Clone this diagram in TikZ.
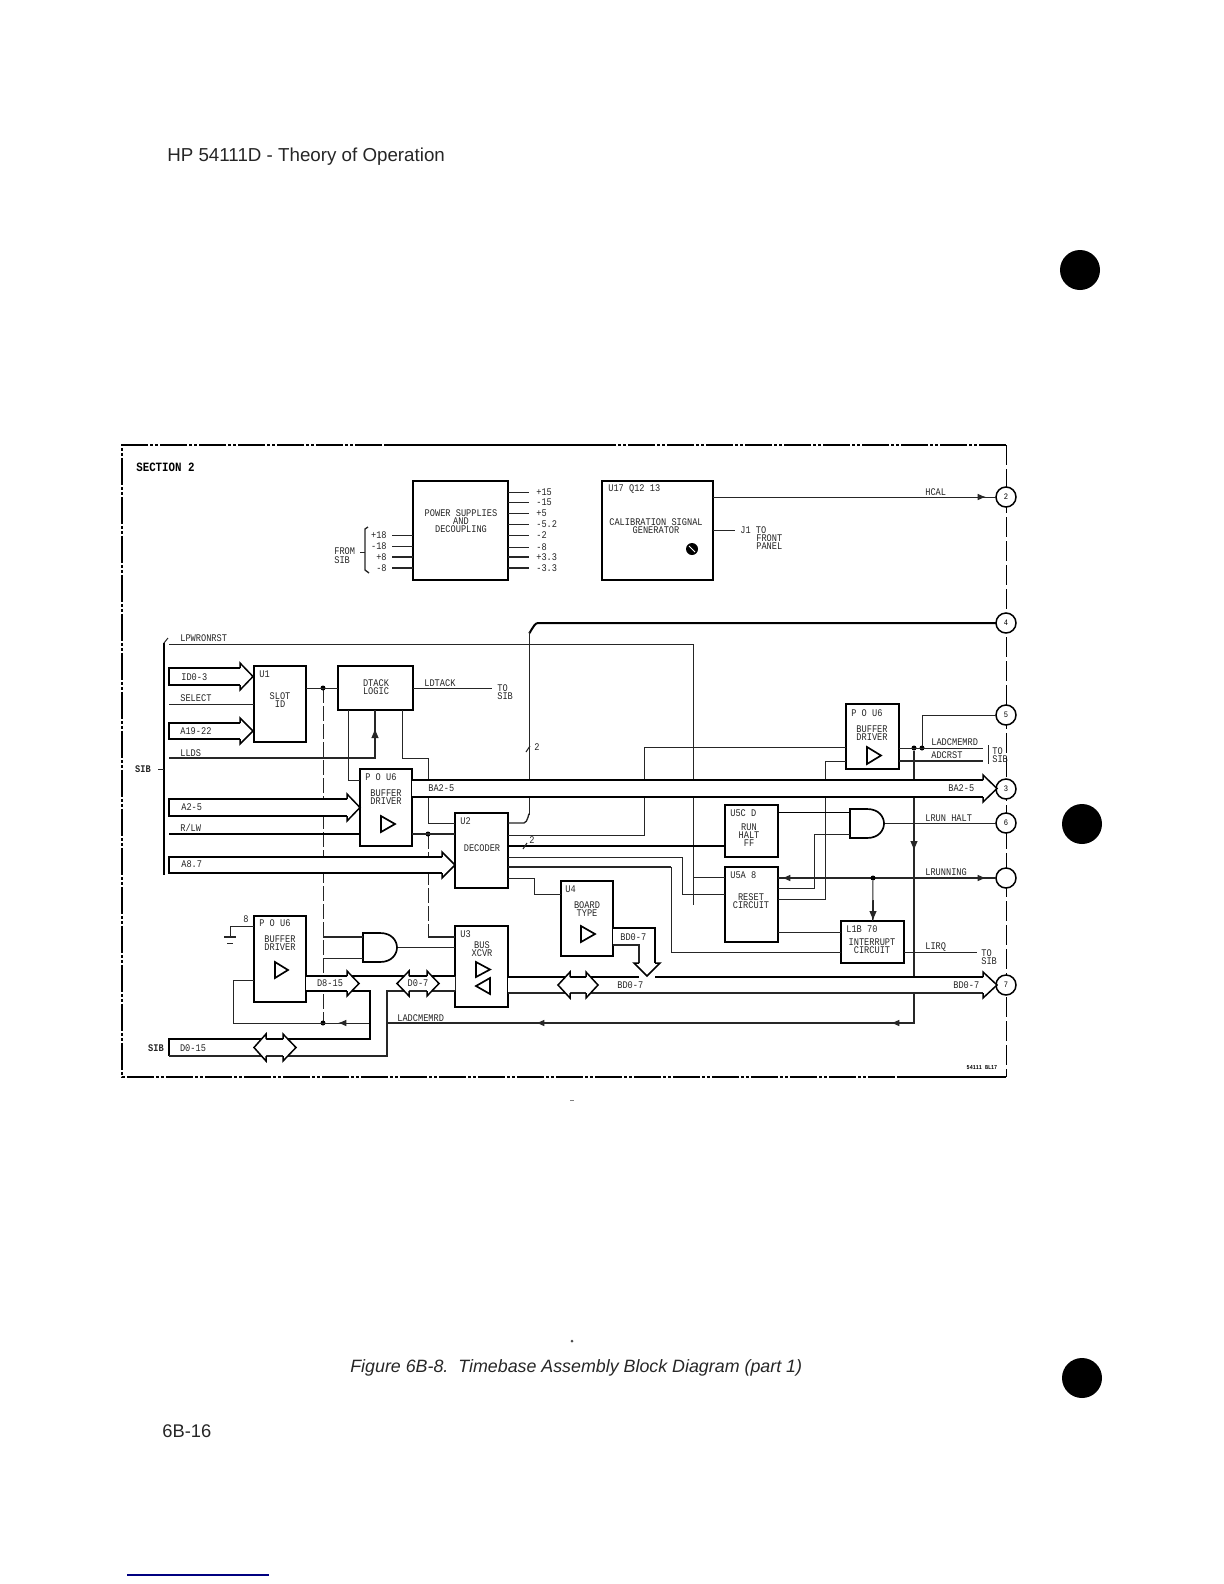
\documentclass[tikz,border=0pt]{standalone}
\usepackage{fontspec}
\setmainfont{Liberation Sans}
\newfontfamily\schem[FakeStretch=0.85]{Liberation Mono}
\usetikzlibrary{arrows.meta}
\def\pu{0.6pt}
\tikzset{
  thinw/.style={line width=0.6pt,black!85},
  thickw/.style={line width=1.2pt,black},
  blockbox/.style={draw=black,line width=1.1pt,fill=white,inner sep=0pt,outer sep=0pt},
  lbl/.style={inner sep=0pt,font=\schem\fontsize{6.1}{6}\selectfont,black!85},
  boldlbl/.style={inner sep=0pt,font=\schem\bfseries\fontsize{7.6}{7}\selectfont},
  tinylbl/.style={inner sep=0pt,font=\schem\bfseries\fontsize{3.6}{4}\selectfont},
  pagelbl/.style={inner sep=0pt,anchor=base west,font=\fontsize{11.25}{14}\selectfont,black!85},
  port/.style={circle,draw=black,line width=0.9pt,fill=white,minimum size=12pt,inner sep=0pt,outer sep=0pt,font=\schem\fontsize{5}{5}\selectfont},
  framedash/.style={line width=0.9pt,dash pattern=on 16pt off 1.4pt on 1.6pt off 1.4pt on 1.6pt off 1.4pt},
  sidedash/.style={line width=0.55pt,dash pattern=on 12pt off 2.4pt},
  longdash/.style={line width=0.6pt,black!85,dash pattern=on 9pt off 1.8pt},
  jdot/.style={circle,fill=black,minimum size=3pt,inner sep=0pt,outer sep=0pt},
  hollowtri/.style={line width=1pt,fill=white},
  gateshape/.style={draw=black,line width=1pt,fill=white},
}
% hollow bus arrowheads: base x, tip x, top y, bottom y
\newcommand\rhead[4]{\path[fill=white] (#1,#3-6) -- (#2,{(#3+#4)/2}) -- (#1,#4+6) -- cycle;
  \draw[line width=0.9pt] (#1,#3) -- (#1,#3-5) -- (#2,{(#3+#4)/2}) -- (#1,#4+5) -- (#1,#4);}
% block: name, x1, y1, x2, y2
\newcommand\mkbox[5]{\node[blockbox,minimum width={(#4-#2)*\pu},minimum height={(#5-#3)*\pu}] (#1) at ({(#2+#4)/2},{(#3+#5)/2}) {};}
% amplifier triangle: left x, top y, bottom y, apex x
\newcommand\amp[4]{\draw[hollowtri] (#1,#2) -- (#4,{(#2+#3)/2}) -- (#1,#3) -- cycle;}
\newcommand\andgate[3]{\draw[gateshape] (#1,#2) -- (#1+17,#2) .. controls (#1+29,#2) and (#1+34,#2+8) .. (#1+34,{#2+(#3-#2)/2}) .. controls (#1+34,#3-8) and (#1+29,#3) .. (#1+17,#3) -- (#1,#3) -- cycle;}
\begin{document}
\begin{tikzpicture}[x=0.6pt,y=-0.6pt]
\useasboundingbox (0,0) rectangle (1224,1584);
\fill[white] (0,0) rectangle (1224,1584);

% page text
\node[pagelbl] (head) at (167,161) {HP 54111D - Theory of Operation};
\node[pagelbl,font=\itshape\fontsize{10.7}{13}\selectfont] (caption) at (350,1372) {Figure 6B-8.\ \ Timebase Assembly Block Diagram (part 1)};
\node[pagelbl,font=\fontsize{11}{13}\selectfont] (pageno) at (162,1437) {6B-16};
\fill[black] (1080,270) circle (20);
\fill[black] (1082,824) circle (20);
\fill[black] (1082,1378) circle (20);
\draw[line width=0.7pt,blue!50!black] (127,1575) -- (269,1575);
\draw[line width=0.5pt,black!50] (570,1100) -- (574,1100);
\fill[black!70] (572,1341) circle (1.5);

% frame
\draw[framedash] (1006,445) -- (122,445) -- (122,1077) -- (1006,1077);
\draw[line width=1.5pt] (385,445) -- (590,445);
\draw[line width=1.3pt] (900,1077) -- (1006,1077);
\draw[sidedash] (1006,445) -- (1006,1077);
\node[boldlbl,anchor=west] (sec) at (136,467) {SECTION 2};

% blocks
\mkbox{pwr}{413}{481}{508}{580}
\mkbox{cal}{602}{481}{713}{580}
\mkbox{uone}{254}{666}{306}{742}
\mkbox{dtack}{338}{666}{413}{710}
\mkbox{usixa}{360}{769}{412}{846}
\mkbox{utwo}{455}{813}{508}{888}
\mkbox{ufour}{561}{881}{613}{956}
\mkbox{uthree}{455}{926}{508}{1007}
\mkbox{usixc}{254}{916}{306}{1002}
\mkbox{usixb}{846}{704}{899}{769}
\mkbox{ufivec}{725}{805}{778}{857}
\mkbox{ufivea}{725}{867}{778}{942}
\mkbox{lonebox}{841}{921}{904}{963}

% ports
\node[port] (pA) at (1006,497) {2};
\node[port] (pB) at (1006,623) {4};
\node[port] (pC) at (1006,715) {5};
\node[port] (pD) at (1006,789) {3};
\node[port] (pE) at (1006,823) {6};
\node[port] (pF) at (1006,878) {};
\node[port] (pG) at (1006,985) {7};

% power rails
\foreach \yy/\tt [count=\i] in {492/+15,502/-15,513/+5,524/-5.2,535/-2,547/-8,557/+3.3,568/-3.3}{
  \coordinate (r\i) at (529,\yy);
  \pgfmathsetmacro\rw{\i>6?1.1:0.6}
  \draw[thinw,line width=\rw pt] (pwr.east |- r\i) -- (r\i);
  \node[lbl,anchor=west] (rl\i) at (536,\yy) {\tt};
}
\foreach \yy/\tt/\ww [count=\i] in {535/+18/0.6,546/-18/0.6,557/+8/0.7,568/-8/1.1}{
  \coordinate (s\i) at (392,\yy);
  \draw[thinw,line width=\ww pt] (s\i) -- (pwr.west |- s\i);
  \node[lbl,anchor=east] (sl\i) at (387,\yy) {\tt};
}
\draw[thinw,line width=0.8pt] (368,527) -- (365,529) -- (365,570) -- (369,573);
\draw[thinw] (360,552) -- (365,552);
\node[lbl,anchor=west] (from) at (334,551) {FROM};
\node[lbl,anchor=west] (fsib) at (334,560) {SIB};

% calibration block
\draw[thinw] (cal.east |- pA) -- (pA);
\draw[-{Latex[length=5pt,width=4pt]},thinw] (960,497) -- (986,497);
\coordinate (jt) at (735,530);
\draw[thinw] (cal.east |- jt) -- (jt);
\fill[black] (692,549) circle (6);
\draw[white,line width=0.6pt] (689,546) -- (695,552);

% long thin nets
\coordinate (lp) at (169,644);
\coordinate (lpb) at (693,644);
\draw[thinw] (lp) -- (lpb) -- (lpb |- ufivea.west) ;
\draw[thinw] (693,877) -- (ufivea.west |- 0,877);
\draw[thickw] (pB) -- (538,623) to[out=180,in=-90] (529,632);
\draw[thinw] (529,632) -- (529,815);
\draw[thinw,line width=0.8pt] (529,815) to[out=90,in=0] (524,823) -- (utwo.east |- 0,823);
\draw[thinw] (dtack.south -| 348,0) -- (348,780) -- (usixa.west |- 0,780);
\draw[thinw] (402,710) -- (402,758) -- (428,758) -- (428,823) -- (utwo.west |- 0,823);
\draw[longdash] (323,688) -- (323,1023);
\draw[longdash] (428,834) -- (428,937);
\draw[thinw,line width=0.8pt] (428,937) -- (uthree.west |- 0,937);
\node[jdot] (dota) at (323,688) {};
\node[jdot] (dotb) at (428,834) {};
\node[jdot] (dotc) at (323,1023) {};
\draw[thinw] (uone.east |- dota) -- (dtack.west |- dota);
\coordinate (ldt) at (492,688);
\draw[thinw] (dtack.east |- ldt) -- (ldt);
\coordinate (sel) at (169,704);
\draw[thinw] (sel) -- (uone.west |- sel);
\coordinate (lds) at (169,758);
\draw[thinw,line width=0.7pt] (lds) -- (375,758) -- (375,710);
\draw[-{Latex[length=6pt,width=4.5pt]},thinw] (375,750) -- (375,728);
\coordinate (rlw) at (169,834);
\draw[thickw,line width=1pt] (rlw) -- (usixa.west |- rlw);
\draw[thinw,line width=0.8pt] (usixa.east |- rlw) -- (utwo.west |- rlw);

% decoder outputs
\draw[thinw] (utwo.east |- 0,835) -- (644,835) -- (644,747) -- (usixb.west |- 0,747);
\draw[thickw,line width=1pt] (utwo.east |- 0,846) -- (ufivec.west |- 0,846);
\draw[thinw] (utwo.east |- 0,857) -- (682,857) -- (682,894) -- (ufivea.west |- 0,894);
\draw[thinw,line width=0.8pt] (utwo.east |- 0,867) -- (671,867);
\draw[thinw] (671,867) -- (671,952) -- (lonebox.west |- 0,952);
\draw[thinw] (utwo.east |- 0,878) -- (534,878) -- (534,894) -- (ufour.west |- 0,894);
\draw[thinw] (526,752) -- (530,746);
\draw[thinw] (523,849) -- (527,843);

% right-hand buffer
\node[jdot] (dotd) at (914,748) {};
\node[jdot] (dote) at (922,748) {};
\coordinate (lam) at (983,748);
\coordinate (adc) at (983,761);
\draw[thinw] (usixb.east |- lam) -- (lam);
\draw[thinw,line width=0.7pt] (usixb.east |- adc) -- (adc);
\draw[thinw] (dote) -- (dote |- pC) -- (pC);
\draw[thinw] (usixb.west |- adc) -- (825,761) -- (825,899) -- (ufivea.east |- 0,899);
\draw[thinw] (988,745) -- (988,764);
\draw[thinw,line width=0.7pt] (dotd) -- (914,1023) -- (387,1023);
\draw[-{Latex[length=6pt,width=4.5pt]},thinw] (914,830) -- (914,851);
\draw[-{Latex[length=5pt,width=4pt]},thinw] (905,1023) -- (891,1023);
\draw[-{Latex[length=5pt,width=4pt]},thinw] (550,1023) -- (536,1023);
\draw[thinw] (370,1023) -- (233,1023) -- (233,980) -- (usixc.west |- 0,980);
\draw[-{Latex[length=5pt,width=4pt]},thinw] (352,1023) -- (338,1023);

% run/halt gate
\andgate{850}{809}{838}
\node[inner sep=0pt,outer sep=0pt] (gtwo) at (884,823) {};
\draw[thickw,line width=1pt] (ufivec.east |- 0,812.5) -- (850,812.5);
\draw[thinw] (ufivea.east |- 0,888) -- (814,888) -- (814,834) -- (850,834);
\draw[thinw] (gtwo) -- (pE);
\coordinate (ctla) at (778,878);
\draw[thinw,line width=0.8pt] (ctla) -- (pF);
\draw[-{Latex[length=5pt,width=4pt]},thinw] (797,878) -- (782,878);
\draw[-{Latex[length=5pt,width=4pt]},thinw] (970,878) -- (986,878);
\node[jdot] (dotf) at (873,878) {};
\draw[thinw] (dotf) -- (lonebox.north);
\draw[-{Latex[length=6pt,width=4.5pt]},thinw] (873,900) -- (873,921);
\draw[thinw] (ufivea.east |- 0,932) -- (lonebox.west |- 0,932);
\coordinate (lirq) at (977,952);
\draw[thinw] (lonebox.east |- lirq) -- (lirq);

% left gate and ground
\andgate{363}{933}{962}
\node[inner sep=0pt,outer sep=0pt] (gone) at (397,947) {};
\draw[thinw,line width=0.9pt] (323,937) -- (363,937);
\draw[thinw] (323,958) -- (363,958);
\draw[thinw] (gone) -- (uthree.west |- gone);
\draw[thinw] (usixc.west |- 0,926) -- (230,926) -- (230,937);
\draw[thinw,line width=0.9pt] (224,937) -- (236,937);
\draw[thinw] (227,943) -- (233,943);

% BA2-5 bus
\fill[white] (412,780) rectangle (983,797);
\draw[thickw] (usixa.east |- 0,780) -- (983,780);
\draw[thickw] (usixa.east |- 0,797) -- (983,797);
\rhead{983}{997}{780}{797}
% A2-5, A8.7, ID0-3, A19-22
\fill[white] (169,799) rectangle (347,816);
\draw[thickw] (347,799) -- (169,799) -- (169,816) -- (347,816);
\rhead{347}{360}{799}{816}
\fill[white] (169,857) rectangle (442,873);
\draw[thickw] (442,857) -- (169,857) -- (169,873) -- (442,873);
\rhead{442}{455}{857}{873}
\draw[thickw] (240,668) -- (169,668) -- (169,685) -- (240,685);
\rhead{240}{253}{668}{685}
\draw[thickw] (240,723) -- (169,723) -- (169,739) -- (240,739);
\rhead{240}{253}{723}{739}
\draw[line width=0.9pt] (164,643) -- (164,875);
\draw[thinw] (164,643) -- (168,638);
\draw[thinw] (158,769) -- (164,769);

% lower data bus
\fill[white] (306,976) -- (455,976) -- (455,991) -- (387,991) -- (387,1056) -- (169,1056) -- (169,1039) -- (370,1039) -- (370,991) -- (306,991) -- cycle;
\draw[line width=0.8pt] (usixc.east |- 0,976) -- (uthree.west |- 0,976);
\draw[thickw] (usixc.east |- 0,991) -- (370,991) -- (370,1039) -- (169,1039) -- (169,1056);
\draw[thinw,line width=0.8pt] (uthree.west |- 0,991) -- (387,991) -- (387,1056) -- (169,1056);
\rhead{347}{359}{976}{991}
\rhead{409}{397}{976}{991}
\rhead{427}{439}{976}{991}
\rhead{266}{254}{1039}{1056}
\rhead{283}{296}{1039}{1056}
% BD0-7 bus
\fill[white] (508,977) rectangle (983,993);
\draw[thickw] (uthree.east |- 0,977) -- (639,977);
\draw[thickw] (655,977) -- (983,977);
\draw[thinw,line width=0.9pt] (uthree.east |- 0,993) -- (983,993);
\rhead{983}{997}{977}{993}
\rhead{570}{558}{977}{993}
\rhead{586}{598}{977}{993}
% U4 branch
\fill[white] (613,928) -- (655,928) -- (655,963) -- (639,963) -- (639,945) -- (613,945) -- cycle;
\draw[thickw,line width=1pt] (ufour.east |- 0,928) -- (655,928) -- (655,963);
\draw[thinw,line width=1pt] (ufour.east |- 0,945) -- (639,945) -- (639,963);
\path[fill=white] (634,963) -- (647,976) -- (660,963) -- cycle;
\draw[line width=0.9pt] (639,963) -- (634,963) -- (647,976) -- (660,963) -- (655,963);

% triangles
\amp{381}{816}{832}{395}
\amp{275}{962}{978}{288}
\amp{476}{962}{977}{490}
\amp{490}{978}{994}{476}
\amp{581}{926}{942}{595}
\amp{867}{747}{764}{881}

% labels
\node[lbl,align=center] (tpwr) at (461,521) {POWER SUPPLIES\\[-1.2pt]AND\\[-1.2pt]DECOUPLING};
\node[lbl,anchor=west] (tca) at (608,489) {U17 Q12 13};
\node[lbl,align=center] (tcb) at (656,526) {CALIBRATION SIGNAL\\[-1.2pt]GENERATOR};
\node[lbl,anchor=west] (thcal) at (925,492) {HCAL};
\node[lbl,anchor=west] (tj) at (740,530) {J1 TO};
\node[lbl,anchor=west,align=left] (tfp) at (756,542) {FRONT\\[-1.2pt]PANEL};
\node[lbl,anchor=west] (tlp) at (180,638) {LPWRONRST};
\node[lbl,anchor=west] (tid) at (181,677) {ID0-3};
\node[lbl,anchor=west] (tsel) at (180,698) {SELECT};
\node[lbl,anchor=west] (ta19) at (180,731) {A19-22};
\node[lbl,anchor=west] (tlds) at (180,753) {LLDS};
\node[lbl,anchor=west] (tu1) at (259,674) {U1};
\node[lbl,align=center] (tslot) at (280,700) {SLOT\\[-1.2pt]ID};
\node[lbl,align=center] (tdt) at (376,687) {DTACK\\[-1.2pt]LOGIC};
\node[lbl,anchor=west] (tldt) at (424,683) {LDTACK};
\node[lbl,anchor=west,align=left] (tts) at (497,692) {TO\\[-1.2pt]SIB};
\node[lbl,font=\schem\bfseries\fontsize{6.1}{6}\selectfont] (tsib) at (143,769) {SIB};
\node[lbl,anchor=west] (ta2) at (181,807) {A2-5};
\node[lbl,anchor=west] (trl) at (180,828) {R/LW};
\node[lbl,anchor=west] (ta8) at (181,864) {A8.7};
\node[lbl,anchor=west] (tu6a) at (365,777) {P O U6};
\node[lbl,align=center] (tbda) at (386,797) {BUFFER\\[-1.2pt]DRIVER};
\node[lbl,anchor=west] (tba) at (428,788) {BA2-5};
\node[lbl,anchor=west] (tbb) at (948,788) {BA2-5};
\node[lbl,anchor=west] (tu2) at (460,821) {U2};
\node[lbl] (tdec) at (482,848) {DECODER};
\node[lbl] (t2a) at (537,747) {2};
\node[lbl] (t2b) at (532,840) {2};
\node[lbl,anchor=west] (tu4) at (565,889) {U4};
\node[lbl,align=center] (tbt) at (587,909) {BOARD\\[-1.2pt]TYPE};
\node[lbl,anchor=west] (tbd1) at (620,937) {BD0-7};
\node[lbl,anchor=west] (tbd2) at (617,985) {BD0-7};
\node[lbl,anchor=west] (tbd3) at (953,985) {BD0-7};
\node[lbl,anchor=west] (tu3) at (460,934) {U3};
\node[lbl,align=center] (tbx) at (482,949) {BUS\\[-1.2pt]XCVR};
\node[lbl,anchor=west] (tu6c) at (259,923) {P O U6};
\node[lbl,align=center] (tbdc) at (280,943) {BUFFER\\[-1.2pt]DRIVER};
\node[lbl] (tb8) at (246,919) {8};
\node[lbl] (td8) at (330,983) {D8-15};
\node[lbl] (td0) at (418,983) {D0-7};
\node[lbl] (td815) at (193,1048) {D0-15};
\node[lbl,font=\schem\bfseries\fontsize{6.1}{6}\selectfont] (tsibb) at (156,1048) {SIB};
\node[lbl,anchor=west] (tlad) at (397,1018) {LADCMEMRD};
\node[lbl,anchor=west] (tu6b) at (851,713) {P O U6};
\node[lbl,align=center] (tbdb) at (872,733) {BUFFER\\[-1.2pt]DRIVER};
\node[lbl,anchor=west] (tlam) at (931,742) {LADCMEMRD};
\node[lbl,anchor=west] (tadc) at (931,755) {ADCRST};
\node[lbl,anchor=west,align=left] (ttt) at (992,755) {TO\\[-1.2pt]SIB};
\node[lbl,anchor=west] (tu5c) at (730,813) {U5C D};
\node[lbl,align=center] (trh) at (749,835) {RUN\\[-1.2pt]HALT\\[-1.2pt]FF};
\node[lbl,anchor=west] (tu5a) at (730,875) {U5A 8};
\node[lbl,align=center] (trs) at (751,901) {RESET\\[-1.2pt]CIRCUIT};
\node[lbl,anchor=west] (tl1b) at (846,929) {L1B 70};
\node[lbl,align=center] (tint) at (872,946) {INTERRUPT\\[-1.2pt]CIRCUIT};
\node[lbl,anchor=west] (trun) at (925,818) {LRUN HALT};
\node[lbl,anchor=west] (trng) at (925,872) {LRUNNING};
\node[lbl,anchor=west] (tlq) at (925,947) {LIRQ};
\node[lbl,anchor=west,align=left] (ttq) at (981,957) {TO\\[-1.2pt]SIB};
\node[tinylbl] (tcode) at (982,1068) {54111 BL17};
\end{tikzpicture}
\end{document}
